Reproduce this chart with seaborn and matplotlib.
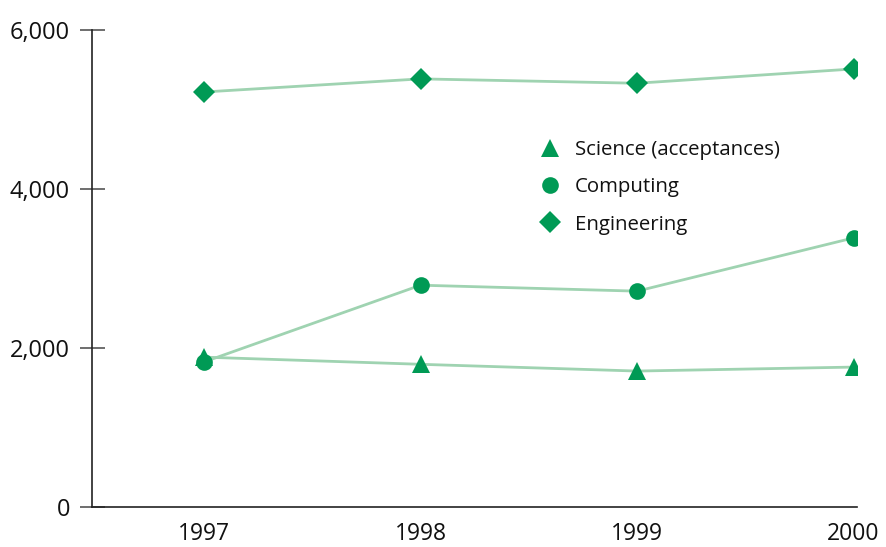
import matplotlib
matplotlib.use('Agg')
import matplotlib.pyplot as plt
import seaborn as sns
import pandas as pd
from matplotlib.lines import Line2D
from matplotlib.ticker import FuncFormatter

sns.set_style('white')
plt.rcParams['font.family'] = ['Open Sans', 'DejaVu Sans']

years = [1997, 1998, 1999, 2000]
science = [1885, 1795, 1710, 1760]
computing = [1825, 2790, 2715, 3385]
engineering = [5220, 5385, 5330, 5510]

series = ['Science (acceptances)', 'Computing', 'Engineering']
values = [science, computing, engineering]
markers = ['^', 'o', 'D']
msizes = [13, 12, 11]

dark = '#009a55'
light = '#9fd3b1'

fig = plt.figure(figsize=(8.87, 5.47), dpi=100)
ax = fig.add_axes([0.1032, 0.0731, 0.8630, 0.8721])

for name, vals, mk, ms in zip(series, values, markers, msizes):
    df = pd.DataFrame({'year': years, 'value': vals})
    sns.lineplot(data=df, x='year', y='value', ax=ax, color=light, linewidth=2,
                 marker=mk, markersize=ms, markerfacecolor=dark,
                 markeredgecolor=dark, markeredgewidth=0)

ax.set_xlim(1996.48, 2000.016)
ax.set_ylim(0, 6000)
ax.set_xticks(years)
ax.set_yticks([0, 2000, 4000, 6000])
ax.yaxis.set_major_formatter(FuncFormatter(lambda v, p: f'{int(v):,}'))
ax.set_xlabel('')
ax.set_ylabel('')

for s in ['top', 'right']:
    ax.spines[s].set_visible(False)
for s in ['left', 'bottom']:
    ax.spines[s].set_color('#222222')
    ax.spines[s].set_linewidth(1.2)

ax.tick_params(axis='y', direction='inout', length=18, width=1.2, color='#555555',
               pad=6.5, labelsize=17, labelcolor='#111111', left=True)
ax.tick_params(axis='x', length=0, pad=11, labelsize=16.5, labelcolor='#111111')

handles = [Line2D([], [], linestyle='none', marker=mk, markersize=ms,
                  markerfacecolor=dark, markeredgecolor=dark, markeredgewidth=0)
           for mk, ms in zip(markers, msizes)]
fig.legend(handles, series, loc='upper left', bbox_to_anchor=(0.586, 0.778),
           frameon=False, fontsize=14.7, handletextpad=0.6, labelspacing=0.85,
           handlelength=1.2, labelcolor='#111111')

fig.savefig('out.png', dpi=100)
